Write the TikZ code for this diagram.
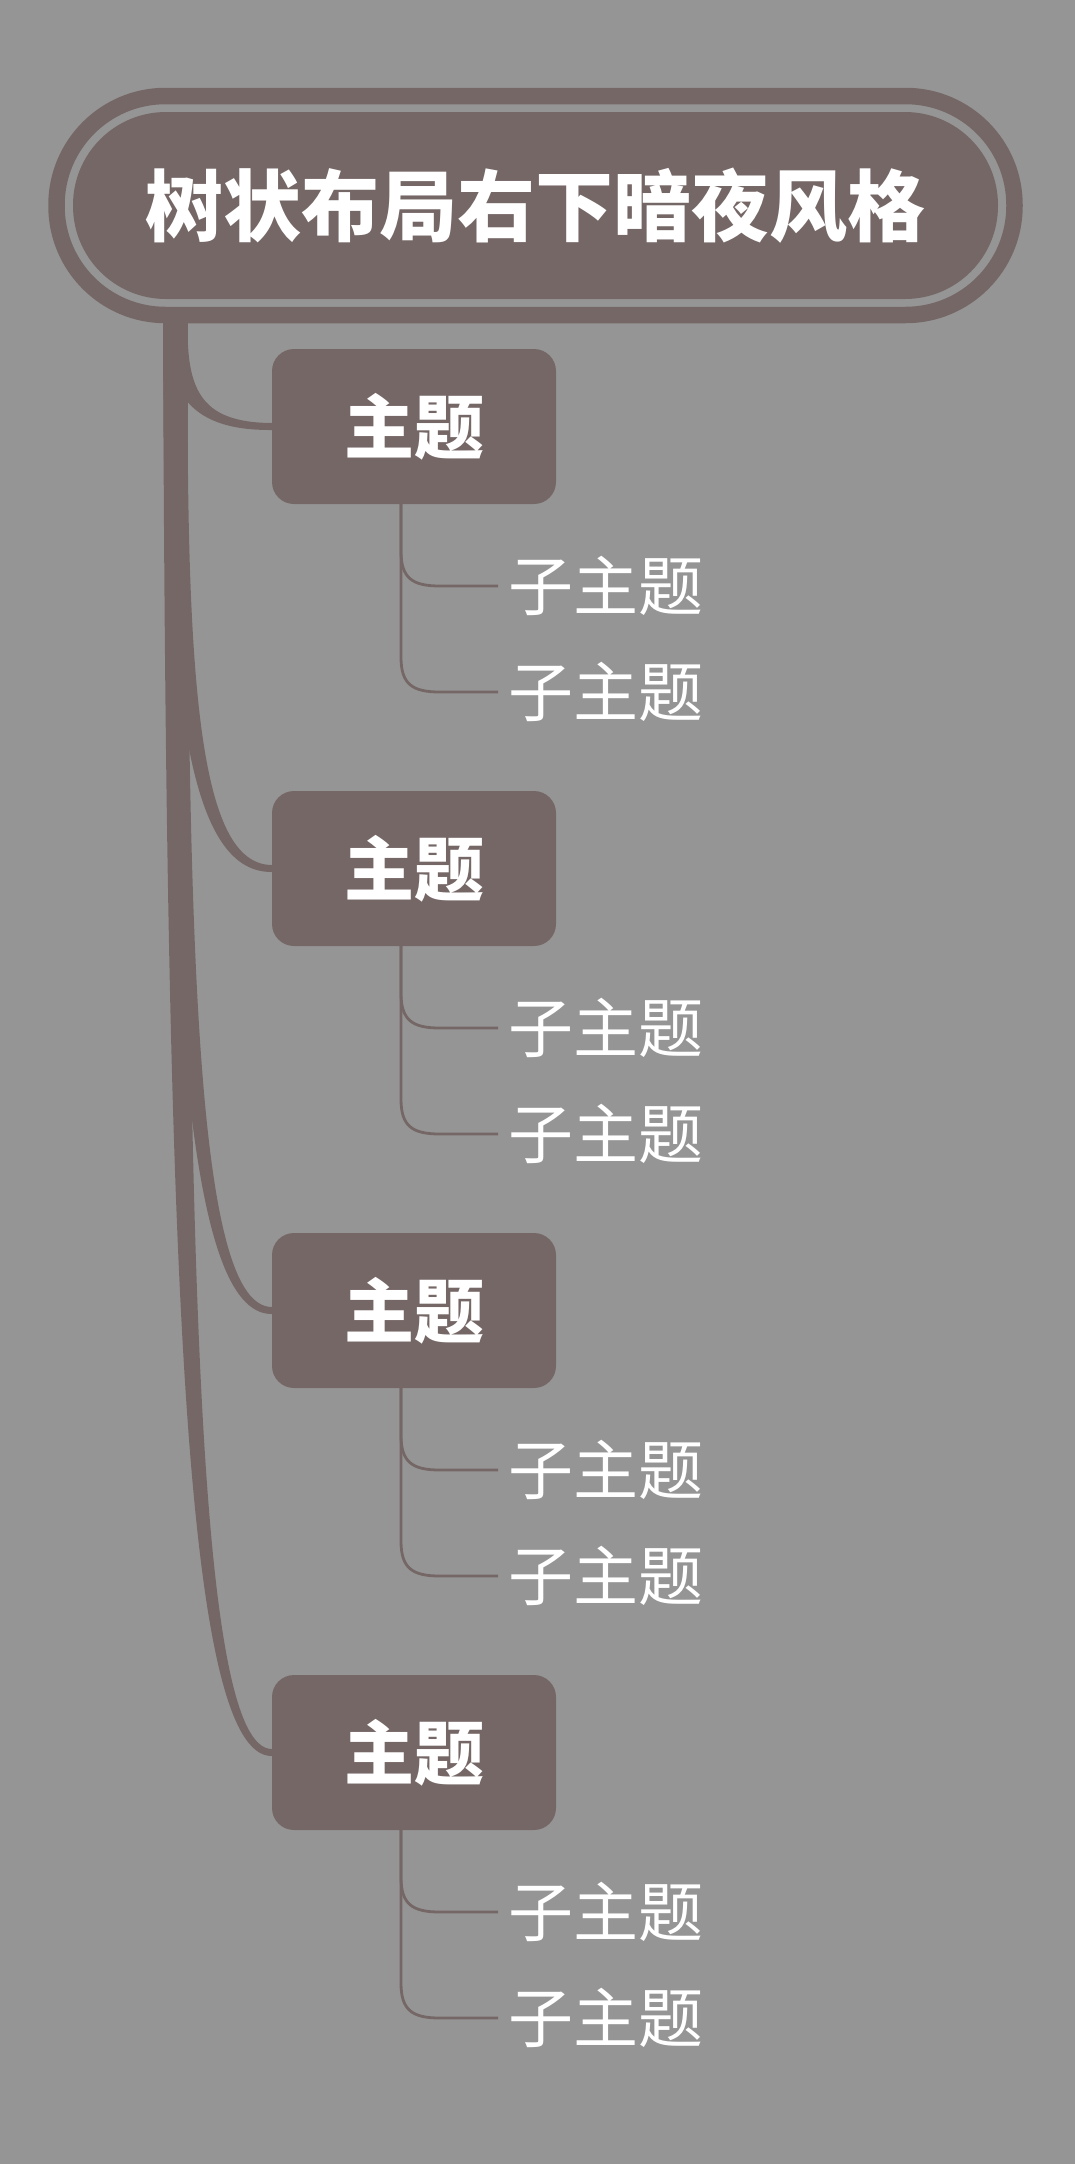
\documentclass[tikz,border=0pt]{standalone}
\usepackage{fontspec}
\newfontfamily\cjk{Noto Sans CJK SC}
\usetikzlibrary{calc}
\definecolor{bgc}{RGB}{149,149,149}
\definecolor{brc}{RGB}{118,103,103}
\pgfdeclarelayer{bg}
\pgfdeclarelayer{lines}
\pgfsetlayers{bg,lines,main}
\begin{document}
\begin{tikzpicture}[x=1pt,y=-1pt,
  rootbox/.style={fill=brc, text=white, rounded corners=93pt, minimum width=925pt, minimum height=187pt, inner sep=0pt, font=\cjk\bfseries\fontsize{78}{90}\selectfont},
  rootring/.style={draw=brc, line width=16.5pt, rounded corners=109pt, minimum width=958pt, minimum height=219pt, inner sep=0pt},
  topicbox/.style={fill=brc, text=white, rounded corners=22pt, minimum width=284pt, minimum height=155pt, inner sep=0pt, font=\cjk\bfseries\fontsize{70}{80}\selectfont},
  subtopic/.style={anchor=west, text=white, inner xsep=10pt, inner ysep=0pt, font=\cjk\fontsize{65}{72}\selectfont},
  subline/.style={draw=brc, line width=2.8pt},
  branchfill/.style={fill=brc}
]
\useasboundingbox (0,0) rectangle (1075,2164);
\begin{pgfonlayer}{bg}
\fill[bgc] (0,0) rectangle (1075,2164);
\end{pgfonlayer}

\node[rootring] (ring) at (535.5,205.5) {};
\node[rootbox] (root) at (535.5,205.5) {树状布局右下暗夜风格};
\coordinate (trunk) at (175.5,312);

\foreach \i/\yy in {1/426.5,2/868.5,3/1310.5,4/1752.5} {
  \node[topicbox] (t\i) at (414,\yy) {主题};
  \node[subtopic] (sa\i) at (498,\yy+159.5) {子主题};
  \node[subtopic] (sb\i) at (498,\yy+265.5) {子主题};
}

\begin{pgfonlayer}{lines}
\foreach \i in {1,...,4} {
  \fill[branchfill] let \p0=(trunk), \p1=(t\i.west) in
    (\x0-12.5,\y0) .. controls (\x0-9.5,{\y0+0.667*(\y1-\y0)}) and ({\x0+(\x1-\x0)/6-7},\y1-4) .. (\x1,\y1-3.5)
    -- (\x1,\y1+3.5) .. controls ({\x0+(\x1-\x0)/6+7},\y1+4) and (\x0+9.5,{\y0+0.667*(\y1-\y0)}) .. (\x0+12.5,\y0) -- cycle;
  \foreach \s in {sa,sb} {
    \draw[subline] let \p1=([xshift=-13pt]t\i.south), \p2=(\s\i.west) in
      (\p1) -- (\x1,\y2+35) .. controls (\x1,\y2+8) and (\x1+11,\y2) .. (\x1+39,\y2) -- (\p2);
  }
}
\end{pgfonlayer}
\end{tikzpicture}
\end{document}
